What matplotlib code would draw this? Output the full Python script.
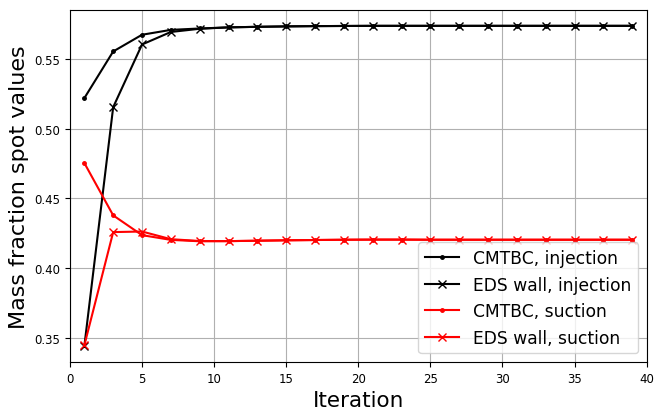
import matplotlib
matplotlib.use("Agg")
import matplotlib.pyplot as plt

iterations = [1, 3, 5, 7, 9, 11, 13, 15, 17, 19, 21, 23, 25, 27, 29, 31, 33, 35, 37, 39]

cmtbc_injection = [0.522, 0.5555, 0.5675, 0.571, 0.572, 0.5728, 0.5732, 0.5735, 0.5737, 0.5738,
                   0.5739, 0.5739, 0.5739, 0.5739, 0.5739, 0.5739, 0.5739, 0.5739, 0.5739, 0.5739]
eds_injection = [0.344, 0.5155, 0.5605, 0.5695, 0.5718, 0.5728, 0.5732, 0.5735, 0.5737, 0.5738,
                 0.5739, 0.5739, 0.5739, 0.5739, 0.5739, 0.5739, 0.5739, 0.5739, 0.5739, 0.5739]
cmtbc_suction = [0.4754, 0.4378, 0.4236, 0.4202, 0.4192, 0.4193, 0.4196, 0.4199, 0.4201, 0.4203,
                 0.4204, 0.4204, 0.4203, 0.4203, 0.4203, 0.4203, 0.4203, 0.4203, 0.4203, 0.4203]
eds_suction = [0.3445, 0.4258, 0.4262, 0.4207, 0.4194, 0.4193, 0.4196, 0.4199, 0.4201, 0.4203,
               0.4204, 0.4204, 0.4203, 0.4203, 0.4203, 0.4203, 0.4203, 0.4203, 0.4203, 0.4203]

fig = plt.figure(figsize=(6.66, 4.1), dpi=100)
ax = fig.add_axes([0.105, 0.1146, 0.866, 0.859])

ax.plot(iterations, cmtbc_injection, "k.-", markersize=5, label="CMTBC, injection")
ax.plot(iterations, eds_injection, "kx-", markersize=6, label="EDS wall, injection")
ax.plot(iterations, cmtbc_suction, "r.-", markersize=5, label="CMTBC, suction")
ax.plot(iterations, eds_suction, "rx-", markersize=6, label="EDS wall, suction")

ax.set_xlim(0, 40)
ax.set_ylim(0.3325, 0.5854)
ax.set_yticks([0.35, 0.40, 0.45, 0.50, 0.55])
ax.tick_params(labelsize=8.5)
ax.grid(True)
ax.set_xlabel("Iteration", fontsize=15.5)
ax.set_ylabel("Mass fraction spot values", fontsize=16)
ax.legend(loc="lower right", fontsize=12.3)

fig.savefig("out.png", dpi=100)
